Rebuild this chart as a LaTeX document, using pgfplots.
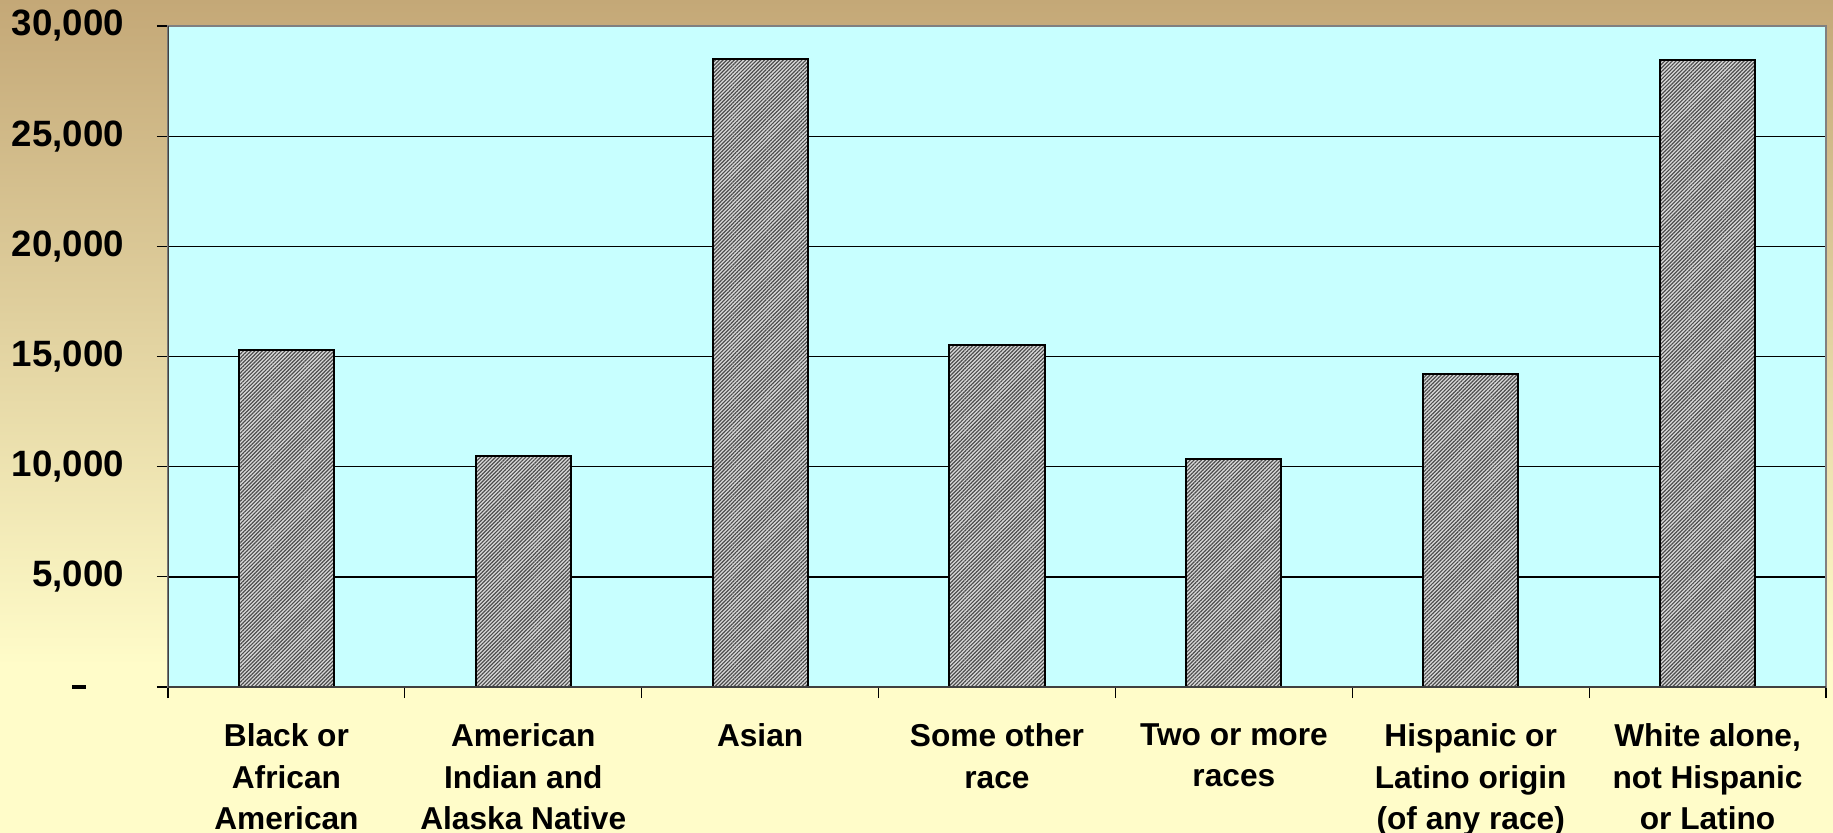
\documentclass[border=0pt]{standalone}
\usepackage{fontspec}
\setmainfont{Liberation Sans}
\usepackage{pgfplots}
\pgfplotsset{compat=1.18}
\usetikzlibrary{patterns.meta}

\definecolor{bgtop}{HTML}{C4A877}
\definecolor{bgbot}{HTML}{FFFCC9}
\definecolor{plotbg}{HTML}{C8FFFF}
\pgfdeclareverticalshading{bgshade}{100bp}{color(0bp)=(bgbot); color(35bp)=(bgbot); color(75bp)=(bgtop); color(100bp)=(bgtop)}

\begin{document}
\begin{tikzpicture}
% page background
\shade[shading=bgshade] (-50.4pt,-43.5pt) rectangle (499.5pt,206.1pt);
\begin{axis}[
    at={(0,0)}, anchor=south west,
    scale only axis,
    width=497.4pt, height=198.3pt,
    xmin=-0.5, xmax=6.5,
    ymin=0, ymax=30000,
    scaled y ticks=false,
    ybar, bar width=28.5pt,
    axis background/.style={fill=plotbg},
    axis line style={draw=gray, line width=0.6pt},
    ymajorgrids,
    grid style={black, line width=0.4pt},
    tick align=outside, tick pos=left,
    major tick length=3.3pt,
    tick style={black, line width=0.35pt},
    ytick={0,5000,...,30000},
    yticklabels={{\makebox[15.5pt][l]{\rule[-0.65pt]{4.2pt}{1.3pt}}}, {5,000}, {10,000}, {15,000}, {20,000}, {25,000}, {30,000}},
    yticklabel style={font=\fontsize{11}{12}\selectfont\bfseries, xshift=-6.4pt},
    xtick={-0.5,0.5,...,6.5},
    xticklabels={},
    extra x ticks={0,1,2,3,4,5,6},
    extra x tick style={major tick length=0pt, xmajorgrids=false},
    extra x tick labels={
        {Black or\\African\\American},
        {American\\Indian and\\Alaska Native},
        {Asian},
        {Some other\\race},
        {Two or more\\races},
        {Hispanic or\\Latino origin\\(of any race)},
        {White alone,\\not Hispanic\\or Latino}},
    xticklabel style={align=center, font=\fontsize{9.5}{12.4}\selectfont\bfseries, yshift=-7.5pt},
]
\addplot[draw=black, line width=0.6pt, fill=gray!30,
    postaction={pattern={Lines[angle=45,distance=0.8pt,line width=0.35pt]}, pattern color=black!70}]
    coordinates {(0,15300) (1,10500) (2,28500) (3,15500) (4,10350) (5,14200) (6,28450)};
\draw[black!75, line width=0.6pt] (rel axis cs:0,1) -- (rel axis cs:0,0) -- (rel axis cs:1,0);
\end{axis}
\pgfresetboundingbox
\path[use as bounding box] (-50.4pt,-43.5pt) rectangle (499.5pt,206.1pt);
\end{tikzpicture}
\end{document}
